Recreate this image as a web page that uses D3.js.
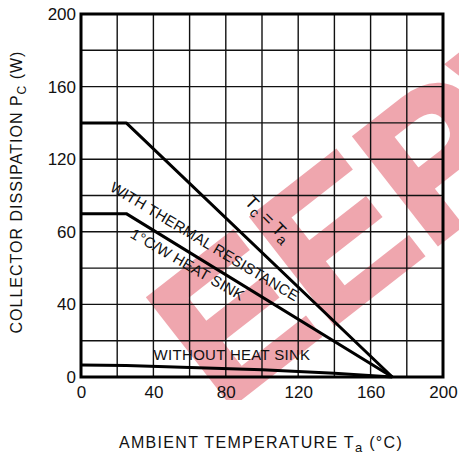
<!DOCTYPE html>
<html><head><meta charset="utf-8">
<script src="https://cdn.jsdelivr.net/npm/d3@7"></script>
<style>
html,body{margin:0;padding:0;background:#fff;}
svg{display:block;}
text{font-family:"Liberation Sans",Arial,Helvetica,sans-serif;fill:#111;}
</style></head>
<body>
<svg id="chart" width="459" height="459"></svg>
<script>
// ---- data ----
const xTickValues = [0, 40, 80, 120, 160, 200];
const xTickLabels = ["0", "40", "80", "120", "160", "200"];
const yTickValues = [0, 40, 80, 120, 160, 200];
const yTickLabels = ["0", "40", "60", "120", "160", "200"];
const gridStep = 20;

const infiniteSinkT = [0, 25, 172];
const infiniteSinkP = [140, 140, 0];
const heatSinkT = [0, 25, 172];
const heatSinkP = [90, 90, 0];
const noSinkT = [0, 25, 100, 140, 172];
const noSinkP = [6.6, 6.4, 4.0, 2.0, 0];

const seriesNames = ["Tc = Ta", "1°C/W", "WITHOUT HEAT SINK"];

// ---- layout ----
const svg = d3.select("#chart");
const L = 81, R = 443, T = 14, B = 377;
const x = d3.scaleLinear().domain([0, 200]).range([L, R]);
const y = d3.scaleLinear().domain([0, 200]).range([B, T]);

// watermark (behind), clipped to the canvas
svg.append("clipPath").attr("id", "wm").append("rect")
  .attr("x", 0).attr("y", 0).attr("width", 459).attr("height", 400);
svg.append("g").attr("clip-path", "url(#wm)").append("text")
  .attr("transform", "translate(222,412) rotate(-38)")
  .attr("text-anchor", "start")
  .style("font-size", "196px").style("font-weight", "bold")
  .style("fill", "#e0505f").style("stroke", "#e0505f").style("stroke-width", 5)
  .style("opacity", 0.5)
  .text("EEPW");

// grid
const gridVals = d3.range(0, 200 + gridStep, gridStep);
const g = svg.append("g");
g.selectAll("line.vx").data(gridVals).join("line")
  .attr("x1", d => x(d)).attr("x2", d => x(d))
  .attr("y1", y(0)).attr("y2", y(200))
  .attr("stroke", "#111").attr("stroke-width", 1.4);
g.selectAll("line.hy").data(gridVals).join("line")
  .attr("y1", d => y(d)).attr("y2", d => y(d))
  .attr("x1", x(0)).attr("x2", x(200))
  .attr("stroke", "#111").attr("stroke-width", 1.4);

// frame
svg.append("rect").attr("x", x(0)).attr("y", y(200))
  .attr("width", x(200) - x(0)).attr("height", y(0) - y(200))
  .attr("fill", "none").attr("stroke", "#000").attr("stroke-width", 3);

// axes via d3 axis (labels only)
const xAxis = d3.axisBottom(x).tickValues(xTickValues)
  .tickFormat((d, i) => xTickLabels[i]).tickSize(0).tickPadding(9);
const gx = svg.append("g").attr("transform", `translate(0,${B})`).call(xAxis);
gx.select(".domain").remove();
gx.selectAll("text").style("font-size", "17px").style("font-family", "Liberation Sans, Arial, sans-serif").attr("fill", "#111");

const yAxis = d3.axisLeft(y).tickValues(yTickValues)
  .tickFormat((d, i) => yTickLabels[i]).tickSize(0).tickPadding(5);
const gy = svg.append("g").attr("transform", `translate(${L},0)`).call(yAxis);
gy.select(".domain").remove();
gy.selectAll("text").style("font-size", "17px").style("font-family", "Liberation Sans, Arial, sans-serif").attr("fill", "#111");

// curves
const line = d3.line().x(d => x(d[0])).y(d => y(d[1]));
const curves = [
  d3.zip(infiniteSinkT, infiniteSinkP),
  d3.zip(heatSinkT, heatSinkP),
  d3.zip(noSinkT, noSinkP)
];
svg.selectAll("path.curve").data(curves).join("path")
  .attr("d", line).attr("fill", "none")
  .attr("stroke", "#000").attr("stroke-width", 3)
  .attr("stroke-linejoin", "round");

// curve labels
const tc = svg.append("text")
  .attr("transform", "translate(264,223) rotate(45)")
  .attr("text-anchor", "middle").style("font-size", "18px");
tc.append("tspan").text("T");
tc.append("tspan").attr("dy", 4).style("font-size", "14px").text("c");
tc.append("tspan").attr("dy", -4).text(" = T");
tc.append("tspan").attr("dy", 4).style("font-size", "14px").text("a");

svg.append("text")
  .attr("transform", "translate(202,246) rotate(31)")
  .attr("text-anchor", "middle").style("font-size", "15px")
  .style("letter-spacing", "0.2px")
  .text("WITH THERMAL RESISTANCE");
svg.append("text")
  .attr("transform", "translate(185,269) rotate(30)")
  .attr("text-anchor", "middle").style("font-size", "15px")
  .style("letter-spacing", "0.2px")
  .text("1°C/W HEAT SINK");
svg.append("text")
  .attr("x", 232).attr("y", 360)
  .attr("text-anchor", "middle").style("font-size", "15px")
  .style("letter-spacing", "0.3px")
  .text(seriesNames[2]);

// axis titles
const xt = svg.append("text").attr("x", 261).attr("y", 448)
  .attr("text-anchor", "middle").style("font-size", "16px").style("letter-spacing", "1.3px");
xt.append("tspan").text("AMBIENT TEMPERATURE T");
xt.append("tspan").attr("dy", 4).style("font-size", "13px").text("a");
xt.append("tspan").attr("dy", -4).text(" (°C)");

const yt = svg.append("text").attr("transform", "translate(22,192) rotate(-90)")
  .attr("text-anchor", "middle").style("font-size", "16px").style("letter-spacing", "1px");
yt.append("tspan").text("COLLECTOR DISSIPATION P");
yt.append("tspan").attr("dy", 4).style("font-size", "12px").text("C");
yt.append("tspan").attr("dy", -4).text(" (W)");
</script>
</body></html>
